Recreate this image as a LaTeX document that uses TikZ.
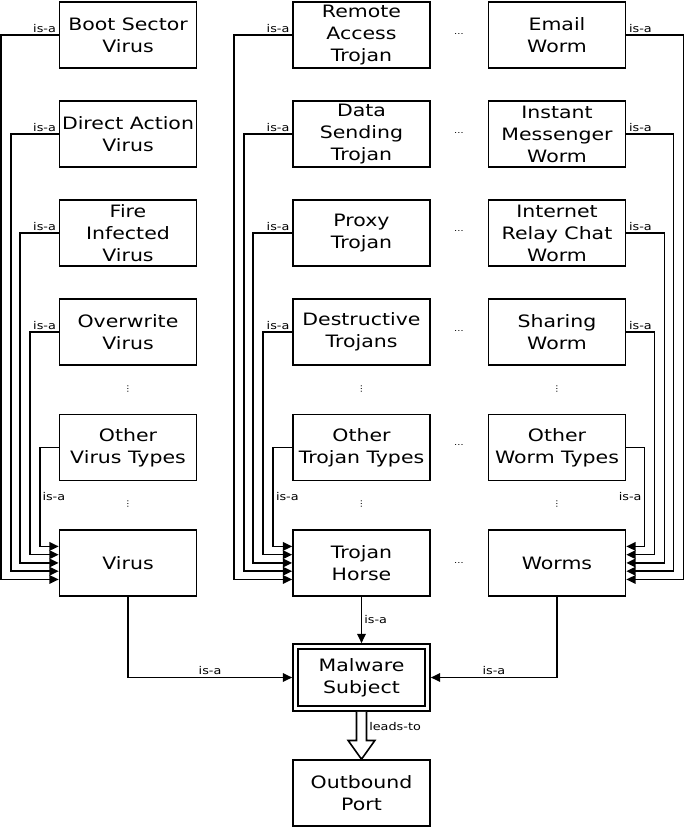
\documentclass[tikz,border=0pt]{standalone}
\usepackage{fontspec}
\setmainfont{DejaVu Sans}[FakeStretch=1.2]
\usetikzlibrary{arrows.meta}
\newdimen\rowDist
\rowDist=74.25pt
\newdimen\gapDist
\gapDist=86.6pt

\begin{document}
\begin{tikzpicture}[
    x=0.75pt,
    y=-0.75pt,
    box/.style={%
      draw,
      rectangle,
      line width=1.2pt,
      minimum width=102.75pt,
      minimum height=49.5pt,
      inner sep=1pt,
      align=center,
      font=\fontsize{12.8}{16.5}\selectfont,
    },
    isa/.style={%
      line width=1.2pt,
      -{Triangle[length=7pt,width=6.4pt]},
    },
    lbl/.style={%
      font=\fontsize{8}{9}\selectfont,
      inner sep=1.5pt,
    },
    dots/.style={%
      font=\fontsize{6}{7}\selectfont,
      inner sep=0pt,
    },
  ]

    \useasboundingbox (0,0) rectangle (685,827);

    % virus column
    \node [box] (bsv) at (128,35) {Boot Sector\\Virus};
    \path (bsv) ++(0,-\rowDist) node [box] (dav) {Direct Action\\Virus};
    \path (dav) ++(0,-\rowDist) node [box] (fiv) {Fire\\Infected\\Virus};
    \path (fiv) ++(0,-\rowDist) node [box] (owv) {Overwrite\\Virus};
    \path (owv) ++(0,-\gapDist) node [box] (ovt) {Other\\Virus Types};
    \path (ovt) ++(0,-\gapDist) node [box] (vir) {Virus};

    % trojan column
    \node [box] (rat) at (361.5,35) {Remote\\Access\\Trojan};
    \path (rat) ++(0,-\rowDist) node [box] (dst) {Data\\Sending\\Trojan};
    \path (dst) ++(0,-\rowDist) node [box] (prt) {Proxy\\Trojan};
    \path (prt) ++(0,-\rowDist) node [box] (dtr) {Destructive\\Trojans};
    \path (dtr) ++(0,-\gapDist) node [box] (ott) {Other\\Trojan Types};
    \path (ott) ++(0,-\gapDist) node [box] (trh) {Trojan\\Horse};

    % worm column
    \node [box] (emw) at (557,35) {Email\\Worm};
    \path (emw) ++(0,-\rowDist) node [box] (imw) {Instant\\Messenger\\Worm};
    \path (imw) ++(0,-\rowDist) node [box] (irc) {Internet\\Relay Chat\\Worm};
    \path (irc) ++(0,-\rowDist) node [box] (shw) {Sharing\\Worm};
    \path (shw) ++(0,-\gapDist) node [box] (owt) {Other\\Worm Types};
    \path (owt) ++(0,-\gapDist) node [box] (wrm) {Worms};

    \node [box,double,double distance=2.6pt,minimum width=99pt,
      minimum height=46.5pt,outer sep=2.5pt] (mal) at (361.5,677.5) {Malware\\Subject};
    \node [box] (obp) at (361.5,793) {Outbound\\Port};

    % dots
    \foreach \x [count=\i] in {128,361.5,557} {
      \node [dots] (vdotA\i) at (\x,389) {⋮};
      \node [dots] (vdotB\i) at (\x,504) {⋮};
    }
    \foreach \y [count=\i] in {34,133,231,331,445,563} {
      \node [dots] (hdot\i) at (459,\y) {…};
    }


    \draw [isa] (bsv.west) node [lbl,above left] {is-a} -- ++(-58,0) |- ([yshift=-12.4pt]vir.west);
    \draw [isa] (dav.west) node [lbl,above left] {is-a} -- ++(-48,0) |- ([yshift=-6.2pt]vir.west);
    \draw [isa] (fiv.west) node [lbl,above left] {is-a} -- ++(-39,0) |- (vir.west);
    \draw [isa] (owv.west) node [lbl,above left] {is-a} -- ++(-29,0) |- ([yshift=6.2pt]vir.west);
    \draw [isa] (ovt.west) -- ++(-19,0) |- node [lbl,right,pos=0.25] {is-a} ([yshift=12.4pt]vir.west);

    \draw [isa] (rat.west) node [lbl,above left] {is-a} -- ++(-58,0) |- ([yshift=-12.4pt]trh.west);
    \draw [isa] (dst.west) node [lbl,above left] {is-a} -- ++(-48,0) |- ([yshift=-6.2pt]trh.west);
    \draw [isa] (prt.west) node [lbl,above left] {is-a} -- ++(-39,0) |- (trh.west);
    \draw [isa] (dtr.west) node [lbl,above left] {is-a} -- ++(-29,0) |- ([yshift=6.2pt]trh.west);
    \draw [isa] (ott.west) -- ++(-19,0) |- node [lbl,right,pos=0.25] {is-a} ([yshift=12.4pt]trh.west);

    \draw [isa] (emw.east) node [lbl,above right] {is-a} -- ++(57,0) |- ([yshift=-12.4pt]wrm.east);
    \draw [isa] (imw.east) node [lbl,above right] {is-a} -- ++(47,0) |- ([yshift=-6.2pt]wrm.east);
    \draw [isa] (irc.east) node [lbl,above right] {is-a} -- ++(38,0) |- (wrm.east);
    \draw [isa] (shw.east) node [lbl,above right] {is-a} -- ++(28,0) |- ([yshift=6.2pt]wrm.east);
    \draw [isa] (owt.east) -- ++(18,0) |- node [lbl,left,pos=0.25] {is-a} ([yshift=12.4pt]wrm.east);


    \draw [isa] (vir.south) |- node [lbl,above,pos=0.75] {is-a} (mal.west);
    \draw [isa] (trh.south) -- node [lbl,right] {is-a} (mal.north);
    \draw [isa] (wrm.south) |- node [lbl,above,pos=0.75] {is-a} (mal.east);

    \draw [line width=1.2pt,fill=white] ([xshift=-3.75pt]mal.south)
      |- ([xshift=-10pt,yshift=14pt]obp.north) -- (obp.north)
      -- ([xshift=10pt,yshift=14pt]obp.north)
      -| node [lbl,right,pos=0.75] {leads-to} ([xshift=3.75pt]mal.south);


\end{tikzpicture}
\end{document}
